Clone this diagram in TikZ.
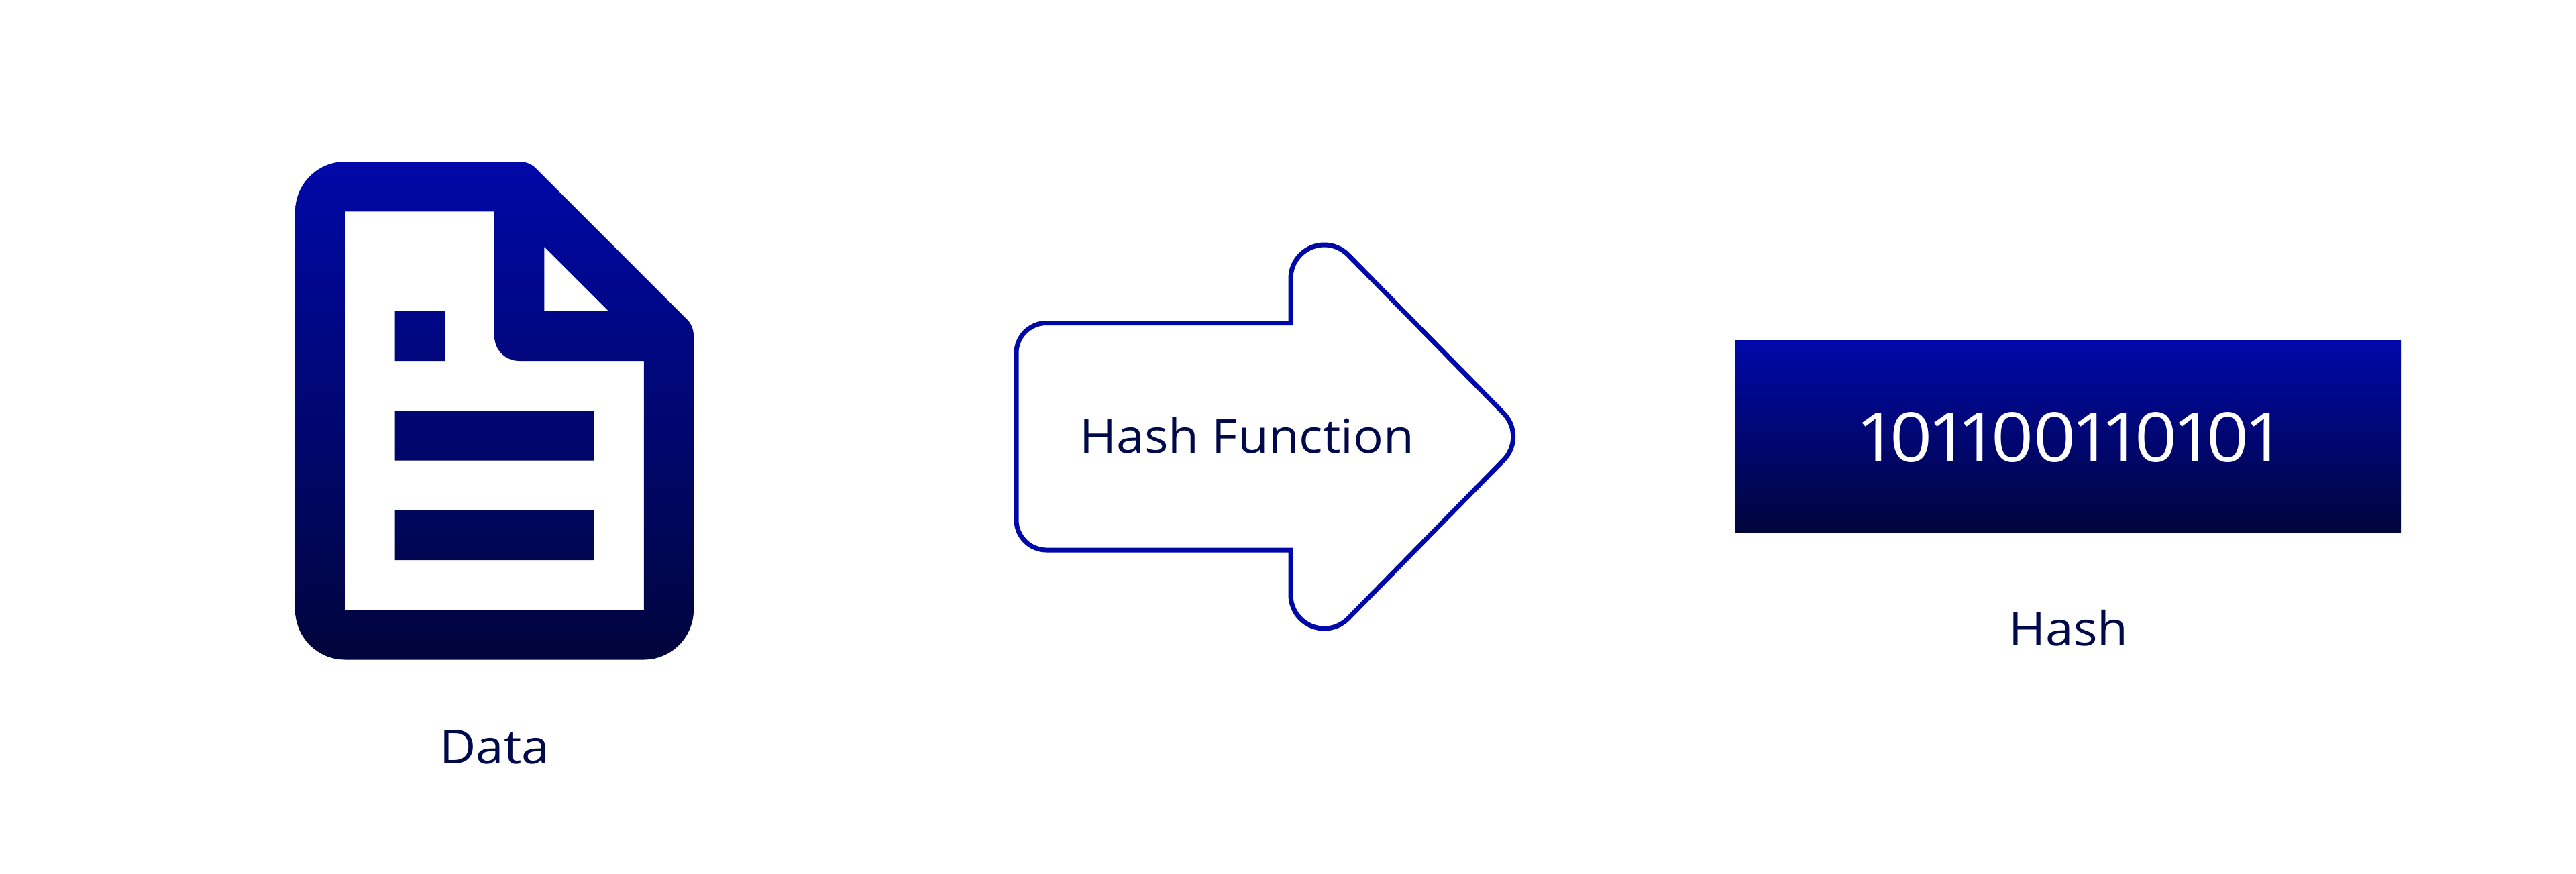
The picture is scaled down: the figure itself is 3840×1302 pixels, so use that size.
\documentclass[tikz,border=0pt]{standalone}
\usepackage{fontspec}
\setmainfont{Open Sans}
\usetikzlibrary{shapes.geometric}
\definecolor{gtop}{HTML}{0008A8}
\definecolor{gbot}{HTML}{00053C}
\definecolor{ink}{HTML}{000A4A}
\tikzset{
  lbl/.style={anchor=base,inner sep=0pt,text=ink,font=\fontsize{70}{70}\selectfont},
  lblw/.style={lbl,xscale=1.065},
  grad/.style={top color=gtop,bottom color=gbot,draw=none}
}
\begin{document}
\begin{tikzpicture}[x=1pt,y=-1pt]
\useasboundingbox[fill=white] (0,0) rectangle (3840,1302);
% document icon (grid unit 74.25)
\begin{scope}[shift={(440,241)},x=74.25pt,y=-74.25pt]
\shade[grad,even odd rule]
  (1,0) -- (4.5,0) .. controls (4.63,0) and (4.76,.05) .. (4.85,.15)
  -- (7.85,3.15) .. controls (7.95,3.24) and (8,3.37) .. (8,3.5)
  -- (8,9) .. controls (8,9.55) and (7.55,10) .. (7,10)
  -- (1,10) .. controls (.45,10) and (0,9.55) .. (0,9)
  -- (0,1) .. controls (0,.45) and (.45,0) .. (1,0) -- cycle
  (1,1) -- (4,1) -- (4,3.5) .. controls (4,3.78) and (4.22,4) .. (4.5,4)
  -- (7,4) -- (7,9) -- (1,9) -- cycle
  (5,1.71) -- (6.29,3) -- (5,3) -- cycle
  (2,3) rectangle (3,4)
  (2,5) rectangle (6,6)
  (2,7) rectangle (6,8);
\end{scope}
\node[lblw] (data) at (737,1138) {Data};
% arrow
\draw[draw=gtop,line width=7pt,line join=miter]
  (1560,481.5) -- (1924,481.5) -- (1924,415)
  arc[start angle=180,end angle=315,radius=50]
  -- (2241,615.6)
  arc[start angle=-45,end angle=45,radius=50]
  -- (2009.4,922.4)
  arc[start angle=45,end angle=180,radius=50]
  -- (1924,820) -- (1560,820)
  arc[start angle=90,end angle=180,radius=45]
  -- (1515,526.5)
  arc[start angle=180,end angle=270,radius=45]
  -- cycle;
\node[lblw] (func) at (1859,675) {Hash Function};
% hash box
\shade[grad] (2586,507.5) rectangle (3579,793.5);
\node[lbl,text=white,xscale=1.083,font=\fontsize{102}{102}\selectfont\addfontfeature{Numbers=Proportional}] (value) at (3085,688) {101100110101};
\node[lblw] (hash) at (3083.5,962.6) {Hash};
\end{tikzpicture}
\end{document}
